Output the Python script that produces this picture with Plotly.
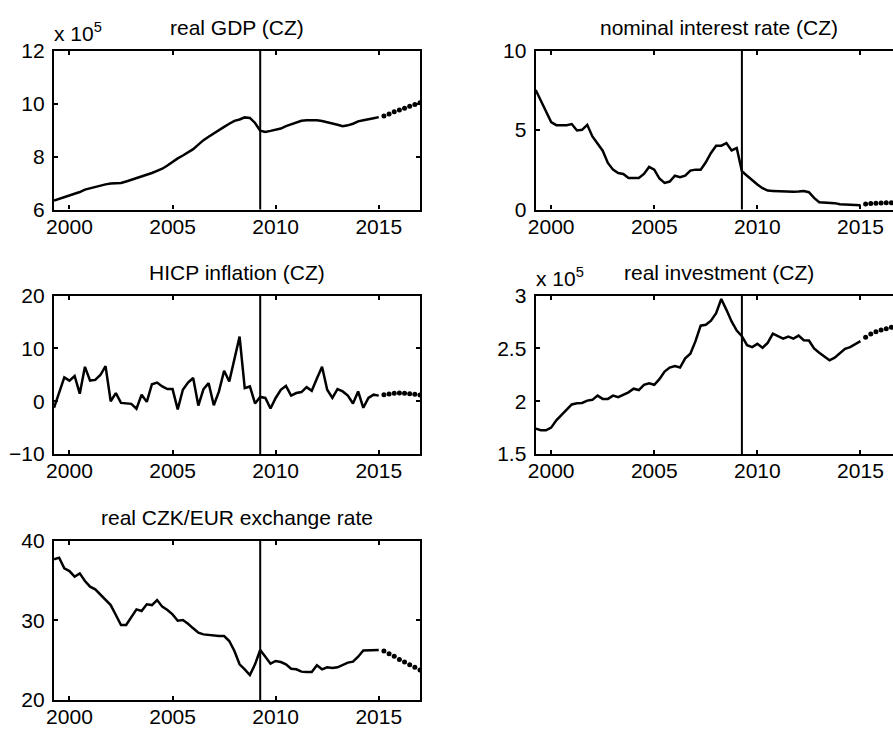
import plotly.graph_objects as go

W, H = 893, 729

# ---------------- data (quarterly, history 1999Q2..2015, forecast 2015..2017) ----------------
start_quarter = 1999.25
vline_date = 2009.25
year_ticks = [2000, 2005, 2010, 2015]

gdp_hist = [6.34, 6.40, 6.46, 6.52, 6.58, 6.66, 6.75, 6.80, 6.86, 6.92, 6.95, 6.98, 7.00, 7.00,
            7.06, 7.12, 7.19, 7.25, 7.32, 7.38, 7.46, 7.54, 7.66, 7.80, 7.93, 8.04, 8.15, 8.28,
            8.45, 8.62, 8.75, 8.88, 9.02, 9.12, 9.24, 9.35, 9.40, 9.48, 9.46, 9.27, 8.98, 8.93,
            8.97, 9.01, 9.06, 9.15, 9.22, 9.28, 9.35, 9.37, 9.37, 9.37, 9.34, 9.30, 9.25, 9.20,
            9.15, 9.18, 9.24, 9.33, 9.37, 9.40, 9.45, 9.49]
gdp_fcst = [9.53, 9.61, 9.69, 9.76, 9.83, 9.90, 9.97, 10.03]

rate_hist = [7.53, 6.84, 6.17, 5.50, 5.31, 5.29, 5.31, 5.38, 4.98, 5.02, 5.33, 4.60, 4.18, 3.70,
             2.93, 2.51, 2.30, 2.24, 1.99, 1.99, 1.99, 2.24, 2.68, 2.51, 1.95, 1.67, 1.76, 2.13,
             2.03, 2.13, 2.45, 2.51, 2.51, 2.97, 3.56, 4.02, 4.02, 4.18, 3.72, 3.87, 2.41, 2.13,
             1.84, 1.57, 1.34, 1.19, 1.17, 1.15, 1.15, 1.13, 1.11, 1.13, 1.17, 1.09, 0.73, 0.46,
             0.44, 0.42, 0.40, 0.33, 0.31, 0.29, 0.27, 0.27]
rate_fcst = [0.35, 0.38, 0.40, 0.41, 0.42, 0.42, 0.42, 0.42]

hicp_hist = [-1.24, 1.68, 4.53, 3.91, 4.78, 1.43, 6.52, 3.91, 4.04, 4.97, 6.65, 0.00, 1.55, -0.31,
             -0.37, -0.50, -1.43, 1.24, -0.12, 3.23, 3.54, 2.80, 2.30, 2.30, -1.55, 2.17, 3.54, 4.41,
             -0.81, 2.30, 3.42, -0.75, 1.86, 5.78, 3.73, 7.76, 12.24, 2.48, 2.80, -0.43, 0.81, 0.62,
             -1.37, 0.62, 2.17, 2.92, 1.06, 1.55, 1.74, 2.67, 1.99, 4.30, 6.52, 2.17, 0.62, 2.30,
             1.86, 1.06, -0.43, 1.86, -1.24, 0.62, 1.24, 1.06]
hicp_fcst = [1.24, 1.37, 1.49, 1.55, 1.49, 1.43, 1.30, 1.18]

inv_hist = [1.741, 1.725, 1.725, 1.750, 1.819, 1.866, 1.919, 1.969, 1.981, 1.984, 2.006, 2.013,
            2.053, 2.022, 2.022, 2.053, 2.038, 2.059, 2.084, 2.119, 2.106, 2.156, 2.169, 2.156,
            2.209, 2.281, 2.319, 2.334, 2.319, 2.406, 2.450, 2.569, 2.716, 2.725, 2.763, 2.834,
            2.969, 2.866, 2.756, 2.669, 2.616, 2.531, 2.513, 2.544, 2.506, 2.553, 2.641, 2.616,
            2.594, 2.613, 2.594, 2.622, 2.578, 2.575, 2.500, 2.459, 2.422, 2.388, 2.413, 2.459,
            2.497, 2.513, 2.538, 2.569]
inv_fcst = [2.606, 2.638, 2.659, 2.675, 2.688, 2.700, 2.709, 2.720]

fx_hist = [37.66, 37.87, 36.53, 36.19, 35.48, 35.90, 34.94, 34.23, 33.89, 33.26, 32.64, 31.92,
           30.67, 29.41, 29.41, 30.33, 31.38, 31.17, 32.01, 31.92, 32.55, 31.72, 31.30, 30.75,
           29.96, 30.04, 29.58, 29.00, 28.45, 28.24, 28.16, 28.03, 28.03, 28.03, 27.41, 26.15,
           24.48, 23.85, 23.14, 24.48, 26.28, 25.44, 24.56, 24.90, 24.77, 24.48, 23.93, 23.85,
           23.56, 23.51, 23.51, 24.35, 23.85, 24.10, 24.02, 24.10, 24.39, 24.69, 24.81, 25.44,
           26.23, 26.23, 26.28, 26.28]
fx_fcst = [26.15, 25.82, 25.48, 25.10, 24.77, 24.44, 24.10, 23.77]

titles = ["real GDP (CZ)", "nominal interest rate (CZ)", "HICP inflation (CZ)",
          "real investment (CZ)", "real CZK/EUR exchange rate"]
y_ranges = [[6, 12], [0, 10], [-10, 20], [1.5, 3], [20, 40]]
y_ticks = [[6, 8, 10, 12], [0, 5, 10], [-10, 0, 10, 20], [1.5, 2, 2.5, 3], [20, 30, 40]]
exponent_label = [True, False, False, True, False]

hist = [gdp_hist, rate_hist, hicp_hist, inv_hist, fx_hist]
fcst = [gdp_fcst, rate_fcst, hicp_fcst, inv_fcst, fx_fcst]

# ---------------- layout geometry (pixels) ----------------
FONT = "Liberation Sans, Arial, Helvetica, sans-serif"
FS = 21
col_left = [(54, 420), (535.7, 901.7)]
row_top = [(50.7, 209.5), (295.7, 454), (540.7, 700)]
x_lo, x_hi = 1999.25, 2017.0
ppy = (col_left[0][1] - col_left[0][0]) / (x_hi - x_lo)

def px_x(v):
    return v / W

def px_y(v):
    return 1 - v / H

fig = go.Figure()
shapes = []
annotations = []

for k in range(5):
    r, c = k // 2, k % 2
    ax = "" if k == 0 else str(k + 1)
    th = [start_quarter + 0.25 * i for i in range(len(hist[k]))]
    t_end = th[-1]
    tf = [t_end + 0.25 * (i + 1) for i in range(len(fcst[k]))]

    fig.add_trace(go.Scatter(x=th, y=hist[k], mode="lines",
                             line=dict(color="black", width=2.5),
                             xaxis="x" + ax, yaxis="y" + ax,
                             showlegend=False, hoverinfo="skip"))
    fig.add_trace(go.Scatter(x=tf, y=fcst[k], mode="markers",
                             marker=dict(color="black", size=5),
                             xaxis="x" + ax, yaxis="y" + ax,
                             showlegend=False, hoverinfo="skip"))

    x0p, x1p = col_left[c]
    if x1p > W:
        xdom = [px_x(x0p), 1.0]
        xr = [x_lo, x_lo + (W - x0p) / ppy]
    else:
        xdom = [px_x(x0p), px_x(x1p)]
        xr = [x_lo, x_hi]
    y0p, y1p = row_top[r]
    ydom = [px_y(y1p), px_y(y0p)]

    axis_common = dict(showline=True, linecolor="black", linewidth=2.2,
                       ticks="inside", ticklen=4, tickwidth=2, tickcolor="black",
                       showgrid=False, zeroline=False, automargin=False,
                       tickfont=dict(family=FONT, size=FS, color="black"))
    fig.update_layout(**{
        "xaxis" + ax: dict(domain=xdom, range=xr, anchor="y" + ax,
                           tickvals=year_ticks, ticktext=[str(v) for v in year_ticks],
                           mirror="ticks", ticklabelstandoff=-3, **axis_common),
        "yaxis" + ax: dict(domain=ydom, range=y_ranges[k], anchor="x" + ax,
                           tickvals=y_ticks[k], ticklabelstandoff=3,
                           mirror=("ticks" if x1p <= W else False), **axis_common),
    })

    shapes.append(dict(type="line", xref="x" + ax, yref="y" + ax + " domain",
                       x0=vline_date, x1=vline_date, y0=0, y1=1,
                       line=dict(color="black", width=2)))

    annotations.append(dict(text=titles[k], xref="paper", yref="paper",
                            x=px_x((x0p + x1p) / 2), y=px_y(y0p - 23.5),
                            xanchor="center", yanchor="middle", showarrow=False,
                            font=dict(family=FONT, size=FS, color="black")))
    if exponent_label[k]:
        annotations.append(dict(text="x 10<sup>5</sup>", xref="paper", yref="paper",
                                x=px_x(x0p - 2), y=px_y(y0p - 19), xanchor="left",
                                yanchor="middle", showarrow=False,
                                font=dict(family=FONT, size=FS, color="black")))

fig.update_layout(width=W, height=H,
                  margin=dict(l=0, r=0, t=0, b=0, pad=0, autoexpand=False),
                  paper_bgcolor="white", plot_bgcolor="white",
                  shapes=shapes, annotations=annotations, showlegend=False)

fig.write_html("out.html", config={"displayModeBar": False},
               post_script="document.body.style.margin='0';document.body.style.overflow='hidden';")
